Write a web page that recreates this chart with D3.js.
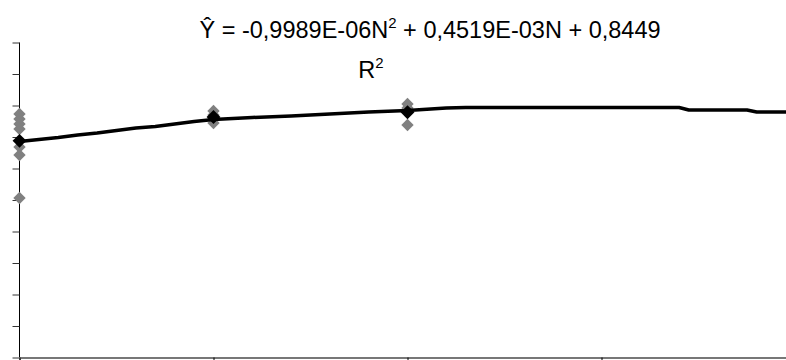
<!DOCTYPE html>
<html>
<head>
<meta charset="utf-8">
<script src="https://cdn.jsdelivr.net/npm/d3@7"></script>
<style>
  html, body { margin: 0; padding: 0; background: #fff; }
  svg { display: block; font-family: "Liberation Sans", Arial, sans-serif; }
</style>
</head>
<body>
<svg id="chart" width="786" height="360"></svg>
<script>
// ---- data ----
const xTicks = [0, 100, 200, 300, 400];
const yTicks = [0.5, 0.55, 0.6, 0.65, 0.7, 0.75, 0.8, 0.85, 0.9, 0.95, 1.0];

const obsN0   = [0.8865, 0.8786, 0.8706, 0.8627, 0.8341, 0.8214, 0.7532];
const obsN100 = [0.8913, 0.8849, 0.8786, 0.8722];
const obsN200 = [0.9024, 0.8960, 0.8897, 0.8690];
const obsLevels = [0, 100, 200];

const curveN = [0, 10, 20, 30, 40, 50, 60, 70, 80, 90, 100, 120, 140, 160, 180, 200, 220, 230, 340, 345, 375, 380, 400];
const curveY = [0.8429, 0.8460, 0.8492, 0.8532, 0.8563, 0.8603, 0.8643, 0.8667, 0.8706, 0.8746, 0.8778,
                0.8810, 0.8833, 0.8865, 0.8897, 0.8921, 0.8960, 0.8968, 0.8968, 0.8929, 0.8929, 0.8897, 0.8897];

const titleLine1 = ["Ŷ = -0,9989E-06N", "2", " + 0,4519E-03N + 0,8449"];
const titleLine2 = ["R", "2"];

// ---- chart ----
const svg = d3.select("#chart");
const x = d3.scaleLinear().domain([0, 400]).range([19.5, 795.5]);
const y = d3.scaleLinear().domain([0.5, 1.0]).range([357.5, 42.5]);

// y axis
const yAxis = d3.axisLeft(y).tickValues(yTicks).tickSize(7).tickFormat("");
const gy = svg.append("g").attr("transform", `translate(${x(0)},0)`).call(yAxis);
gy.select(".domain").attr("stroke", "#000").attr("d", `M-0,${y(1.0)}V${y(0.5)}`);
gy.selectAll(".tick line").attr("stroke", "#333");

// x axis
const xAxis = d3.axisBottom(x).tickValues(xTicks).tickSize(5).tickFormat("");
const gx = svg.append("g").attr("transform", `translate(0,${y(0.5)})`).call(xAxis);
gx.select(".domain").attr("stroke", "#777").attr("stroke-width", 2);
gx.selectAll(".tick line").attr("stroke", "#000");

// square diamond symbol (rotated square)
const sqDiamond = {
  draw(ctx, size) {
    const r = Math.sqrt(size / 2);
    ctx.moveTo(0, -r); ctx.lineTo(r, 0); ctx.lineTo(0, r); ctx.lineTo(-r, 0); ctx.closePath();
  }
};
const diamond = d3.symbol().type(sqDiamond);

// observations
const obs = [
  ...obsN0.map(v => ({n: obsLevels[0], v})),
  ...obsN100.map(v => ({n: obsLevels[1], v})),
  ...obsN200.map(v => ({n: obsLevels[2], v}))
];
svg.append("g").selectAll("path").data(obs).join("path")
  .attr("d", diamond.size(76)())
  .attr("transform", d => `translate(${x(d.n)},${y(d.v)})`)
  .attr("fill", "#808080");

// fitted curve
const line = d3.line().x((d, i) => x(curveN[i])).y(d => y(d));
svg.append("path").datum(curveY)
  .attr("d", line)
  .attr("fill", "none")
  .attr("stroke", "#000")
  .attr("stroke-width", 3.5)
  .attr("stroke-linejoin", "round");

// means
const means = [obsN0, obsN100, obsN200].map((arr, i) => ({n: obsLevels[i], v: d3.mean(arr)}));
svg.append("g").selectAll("path").data(means).join("path")
  .attr("d", diamond.size(96)())
  .attr("transform", d => `translate(${x(d.n)},${y(d.v)})`)
  .attr("fill", "#000");

// title
const t1 = svg.append("text").attr("x", 430).attr("y", 38)
  .attr("text-anchor", "middle").attr("font-size", 23.5).attr("fill", "#000");
t1.append("tspan").text(titleLine1[0]);
t1.append("tspan").attr("font-size", 15).attr("dy", -10).text(titleLine1[1]);
t1.append("tspan").attr("dy", 10).text(titleLine1[2]);

const t2 = svg.append("text").attr("x", 371).attr("y", 78)
  .attr("text-anchor", "middle").attr("font-size", 23.5).attr("fill", "#000");
t2.append("tspan").text(titleLine2[0]);
t2.append("tspan").attr("font-size", 15).attr("dy", -10).text(titleLine2[1]);
</script>
</body>
</html>
